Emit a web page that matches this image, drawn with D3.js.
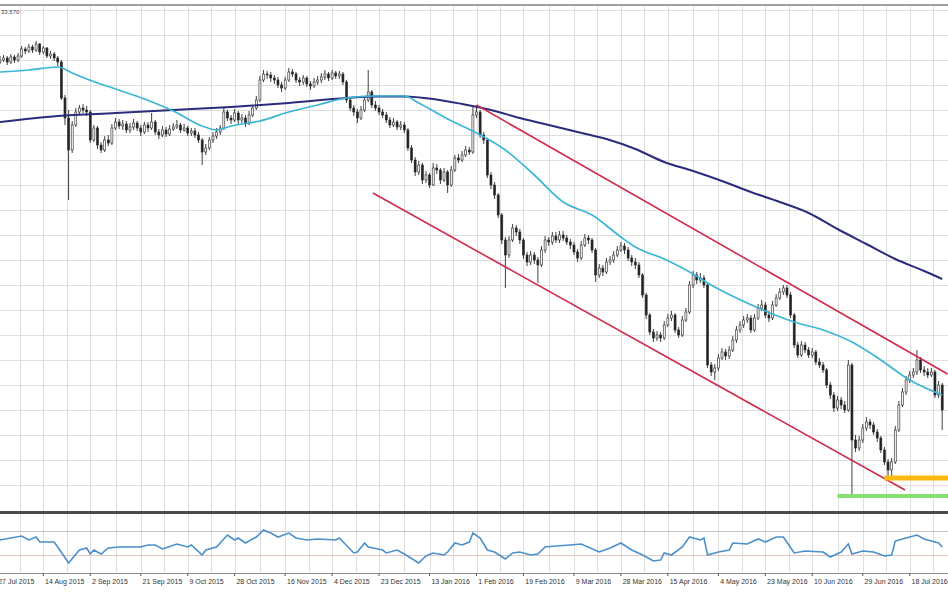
<!DOCTYPE html>
<html><head><meta charset="utf-8">
<script src="https://cdn.jsdelivr.net/npm/d3@7"></script>
<style>html,body{margin:0;padding:0;background:#fff;overflow:hidden}</style>
</head><body>
<svg id="c" width="948" height="593"></svg>
<script>
// ---------------- DATA ----------------
const firstOpen = 187.6;
const closes = [188.0,188.4,187.6,188.6,188.0,188.8,190.2,189.8,190.6,190.0,
191.2,189.6,190.4,188.8,189.2,188.4,187.6,180.4,176.4,170.0,
175.0,177.6,178.4,178.0,177.6,172.0,174.4,171.0,170.0,172.0,
171.4,174.4,175.6,174.8,175.2,174.0,174.6,175.4,174.4,173.6,
175.0,174.4,175.6,173.6,173.0,174.0,173.2,174.2,174.6,175.0,
174.0,174.4,173.4,173.8,173.0,172.0,169.6,170.4,172.0,172.8,
173.6,174.4,177.6,176.4,176.0,177.4,176.0,176.4,175.4,177.0,
178.4,180.0,184.0,185.2,185.0,184.4,184.0,183.0,182.4,184.0,
185.6,185.2,184.0,183.6,184.4,183.2,182.8,183.6,184.0,184.6,
185.2,184.4,185.4,184.8,185.2,183.6,180.0,178.4,177.6,176.4,
178.0,180.0,181.6,179.0,178.4,177.6,177.0,176.0,175.0,175.6,
174.6,175.0,174.0,170.4,168.0,165.6,167.0,164.0,165.0,163.0,
166.4,166.0,164.0,165.6,163.0,166.0,168.4,168.0,169.0,170.0,
169.6,177.0,177.6,173.0,172.0,165.0,163.0,161.0,157.0,152.0,
149.0,152.0,154.4,153.6,152.0,149.0,147.6,149.0,148.0,147.0,
150.0,152.0,151.6,152.8,152.0,153.0,152.4,151.6,151.0,149.6,
148.4,151.0,152.4,152.0,150.0,145.0,146.4,145.6,147.6,148.0,
149.0,150.0,150.8,150.0,148.4,147.6,147.0,145.0,141.0,137.0,
133.6,132.4,133.0,132.4,135.0,136.4,137.0,134.0,133.0,136.0,
137.6,143.0,145.0,144.0,144.4,143.0,127.0,125.6,126.4,128.4,
129.6,128.8,130.0,132.0,134.0,135.0,136.0,136.4,134.0,136.4,
138.4,139.0,137.0,136.4,139.0,140.4,141.6,142.4,141.0,137.0,
131.0,129.0,131.0,130.0,129.0,129.6,127.6,127.0,126.0,123.0,
121.0,118.4,120.0,119.0,118.0,127.0,112.0,110.4,112.0,114.4,
115.6,115.0,113.6,112.4,110.0,107.6,106.0,107.6,114.0,119.0,
121.6,124.0,125.0,125.6,128.0,126.0,125.6,125.0,125.6,121.0,
123.0,118.0];
const highs = [188.8,189.0,188.8,189.2,189.0,189.4,190.8,190.6,191.2,191.0,
191.8,191.4,190.8,190.6,189.8,189.6,188.8,188.0,181.0,178.0,
175.8,178.4,179.0,179.2,178.8,178.0,175.0,174.8,171.6,172.8,
173.0,175.2,176.4,176.2,176.0,175.8,175.4,176.2,175.8,175.0,
175.6,175.6,177.4,176.0,174.2,174.8,174.6,175.0,175.4,176.0,
175.4,175.2,174.8,174.4,174.4,173.6,172.4,171.2,172.6,173.6,
174.4,175.0,178.6,178.0,177.0,178.2,177.8,177.2,177.0,177.8,
179.0,180.8,184.8,186.0,185.8,185.6,185.0,184.6,183.6,184.6,
186.4,186.2,185.6,184.6,185.0,184.8,183.8,184.4,184.8,185.4,
186.0,185.6,186.0,185.8,185.8,185.6,184.0,180.6,179.0,178.2,
178.8,180.8,186.0,182.0,179.8,179.0,178.2,177.6,176.6,176.4,
176.0,175.8,175.6,174.4,171.0,168.6,167.8,167.4,165.8,165.4,
167.4,167.2,166.4,166.4,166.0,166.8,169.0,169.2,169.8,170.8,
170.6,178.6,179.0,178.0,173.6,172.4,165.6,163.6,161.4,157.4,
152.6,152.8,155.2,155.0,154.2,152.4,149.6,149.8,149.6,148.6,
150.8,152.8,152.6,153.6,153.6,153.8,153.8,153.0,152.2,151.6,
150.2,151.8,153.2,153.0,152.4,150.4,147.2,147.0,148.4,148.8,
149.8,150.8,151.6,151.4,150.6,149.0,148.4,147.6,145.4,141.4,
137.4,134.2,133.8,133.6,135.8,137.2,137.8,137.4,134.6,136.8,
138.4,143.8,145.8,145.6,145.4,145.0,143.4,127.6,127.2,129.2,
130.4,130.2,130.8,132.8,134.8,135.8,136.8,137.2,137.0,137.2,
139.2,140.0,139.6,137.8,139.8,141.2,142.4,143.0,143.0,141.6,
137.4,131.6,131.8,131.6,130.6,130.4,130.0,128.4,127.6,126.4,
123.6,121.6,120.8,120.6,119.8,128.0,127.4,113.0,112.8,115.2,
116.6,116.2,115.6,114.2,112.8,110.6,108.2,108.4,114.8,119.8,
122.4,124.8,125.8,126.4,130.0,128.6,126.8,126.4,126.4,126.0,
123.8,123.4];
const lows = [187.2,187.6,187.0,187.2,187.4,187.6,188.4,189.2,189.4,189.4,
189.6,189.0,189.2,188.4,188.2,187.8,186.8,180.0,175.0,160.0,
169.4,174.6,177.0,177.4,176.8,171.4,171.6,170.2,169.4,169.6,
170.8,171.0,174.0,174.2,174.0,173.4,173.4,174.0,173.8,172.8,
173.2,173.6,174.0,173.0,172.2,172.6,172.6,172.8,173.8,174.2,
173.4,173.6,172.8,172.8,172.4,171.4,167.0,169.0,170.0,171.4,
172.2,173.0,174.0,175.8,175.2,175.6,175.2,175.4,174.6,175.0,
176.6,178.0,179.6,183.6,184.2,183.6,183.2,182.4,181.6,182.0,
183.6,184.6,183.4,182.8,183.0,182.6,182.0,182.4,183.0,183.4,
184.0,183.8,184.0,184.2,184.2,183.0,179.4,177.8,176.8,175.4,
176.0,177.6,179.6,178.4,177.8,177.0,176.4,175.4,174.4,174.6,
174.0,174.0,173.4,169.8,167.4,164.8,165.0,163.2,163.4,162.4,
162.8,165.2,163.2,163.6,161.4,162.6,165.6,167.4,167.6,168.6,
169.0,169.2,176.4,172.4,171.2,164.4,162.2,160.2,156.4,151.2,
142.4,148.4,151.6,152.8,151.2,148.2,146.8,147.0,147.2,143.4,
146.6,149.4,150.8,151.0,151.4,151.4,151.8,151.0,150.2,149.0,
147.6,148.0,150.6,151.2,149.4,143.6,144.4,144.8,145.2,147.0,
147.4,148.6,149.6,149.2,147.8,146.8,146.2,144.4,140.4,136.2,
133.0,131.6,131.8,131.6,132.0,134.6,135.8,133.4,132.4,132.6,
135.6,137.2,142.4,143.2,143.4,142.4,126.4,124.8,124.0,125.8,
128.0,128.0,128.2,129.6,131.4,133.4,134.4,135.4,133.4,133.6,
136.0,137.8,136.4,135.6,136.0,138.6,140.0,141.0,140.4,136.4,
130.4,128.4,128.6,129.4,128.4,128.4,127.0,126.4,125.4,122.4,
120.2,117.6,117.8,118.2,117.4,117.6,100.8,109.6,109.8,111.4,
113.8,114.2,113.0,111.6,109.4,107.0,104.4,104.6,107.2,113.6,
118.6,121.0,123.4,124.4,125.0,125.4,124.8,124.4,124.6,120.4,
120.4,114.0];

// moving averages (bar index, value)
const fastMaBars = [0,8,16,20,24,32,40,48,56,60,64,72,80,88,96,104,112,116,124,132,140,148,156,164,172,176,184,192,196,204,212,220,228,236,244,252,261];
const fastMa = [185.6,186,186.6,185.4,184.2,182.2,180.2,177.8,174.8,174,174.8,175.8,177.6,179,180.4,180.8,180.8,179.4,176.2,173.4,170,165,159.6,157,152.6,150.6,148.2,145.2,143.4,140.4,137.8,135.6,134,131.6,128,124,121];
const slowMaBars = [0,16,32,48,64,80,96,104,112,120,128,136,144,152,160,168,176,184,192,200,208,216,224,232,240,248,256,261];
const slowMa = [175.6,176.8,177.4,178,178.6,179.4,180.4,180.7,180.7,180.2,179.2,178,176.4,175,173.6,172.2,170.2,167.6,165.8,163.8,161.6,159.6,157.4,154.2,151.2,148.2,145.8,144.2];

// oscillator (RSI-like)
const rsiBars = [0,6,8,10,11,15,16,19,22,24,25,26,28,30,33,39,41,43,45,49,52,53,56,57,60,63,65,66,68,71,73,75,77,80,82,85,88,93,94,98,99,101,102,106,107,110,112,116,118,120,123,124,126,128,130,131,133,135,137,140,142,144,147,149,151,154,158,161,166,169,172,175,178,181,183,184,186,189,191,194,195,196,199,202,203,207,210,212,215,217,220,223,228,230,233,235,236,239,242,245,247,248,251,254,256,259,260,261];
const rsiVals = [55.2,62.1,55.2,60.3,51.7,51.7,43.1,15.5,37.9,41.4,31.0,37.9,31.0,41.4,43.1,43.1,46.6,46.6,39.7,48.3,43.1,46.6,29.3,37.9,43.1,63.8,55.2,58.6,50.0,60.3,72.4,67.2,60.3,67.2,58.6,55.2,56.9,55.2,58.6,32.8,34.5,50.0,43.1,37.9,32.8,37.9,31.0,15.5,27.6,32.8,29.3,34.5,50.0,46.6,51.7,67.2,58.6,37.9,34.5,22.4,32.8,34.5,29.3,31.0,43.1,44.8,46.6,48.3,34.5,41.4,50.0,37.9,29.3,19.0,20.7,32.8,29.3,43.1,60.3,55.2,58.6,29.3,34.5,37.9,50.0,48.3,56.9,51.7,60.3,60.3,32.8,36.2,34.5,25.9,34.5,48.3,31.0,36.2,34.5,27.6,29.3,53.4,58.6,63.8,56.9,51.7,50.0,43.1];
const rsiLevels = [70, 30];

// time axis
const tickBars = [-1,12,25,39,52,65,79,92,105,119,132,145,159,172,185,199,212,225,239,252];
const tickLabels = ["27 Jul 2015","14 Aug 2015","2 Sep 2015","21 Sep 2015","9 Oct 2015","28 Oct 2015","16 Nov 2015","4 Dec 2015","23 Dec 2015","13 Jan 2016","1 Feb 2016","19 Feb 2016","9 Mar 2016","28 Mar 2016","15 Apr 2016","4 May 2016","23 May 2016","10 Jun 2016","29 Jun 2016","18 Jul 2016"];

// drawn objects: channel (bar, price) and horizontal levels
const channelUpper = [[132, 179.0], [262.5, 125.2]];
const channelLower = [[103.3, 161.4], [250.7, 102.0]];
const levelPrices = [104.4, 100.8];
const levelFromBars = [245, 232];
const topLabel = "33.570";

// ---------------- DRAW ----------------
const svg = d3.select("#c");
const W = 948;
const mainTop = 6, mainBottom = 511, oscTop = 514, oscBottom = 572, axisY = 573;
const x = d3.scaleLinear().domain([0, 261]).range([0, 942.2]);
const y = d3.scaleLinear().domain([97.8, 198.8]).range([mainBottom, mainTop]);
const yr = d3.scaleLinear().domain([0, 100]).range([oscBottom, oscTop]);

svg.append("rect").attr("width", W).attr("height", 593).attr("fill", "#fff");

const defs = svg.append("defs");
defs.append("clipPath").attr("id", "cm").append("rect")
  .attr("x", 0).attr("y", mainTop).attr("width", W).attr("height", mainBottom - mainTop);
defs.append("clipPath").attr("id", "co").append("rect")
  .attr("x", 0).attr("y", oscTop).attr("width", W).attr("height", oscBottom - oscTop);

// grid
const gridBars = [];
tickBars.forEach((b, i) => {
  gridBars.push(b);
  const nb = i < tickBars.length - 1 ? tickBars[i + 1] : b + 13;
  gridBars.push((b + nb) / 2);
});
const grid = svg.append("g").attr("stroke", "#dedede").attr("stroke-width", 1);
gridBars.forEach(b => {
  const gx = Math.round(x(b)) + 0.5;
  if (gx < 0 || gx > W) return;
  grid.append("line").attr("x1", gx).attr("x2", gx).attr("y1", mainTop).attr("y2", mainBottom);
  grid.append("line").attr("x1", gx).attr("x2", gx).attr("y1", oscTop).attr("y2", oscBottom);
});
d3.range(103, 199, 5).forEach(p => {
  const gy = Math.round(y(p)) + 0.5;
  grid.append("line").attr("x1", 0).attr("x2", W).attr("y1", gy).attr("y2", gy);
});

// candles
const candles = closes.map((c, i) => ({ i, o: i === 0 ? firstOpen : closes[i - 1], c, h: highs[i], l: lows[i] }));
const cg = svg.append("g").attr("clip-path", "url(#cm)");
cg.selectAll("line.w").data(candles).join("line")
  .attr("x1", d => x(d.i)).attr("x2", d => x(d.i))
  .attr("y1", d => y(d.h)).attr("y2", d => y(d.l))
  .attr("stroke", "#2a2a2a").attr("stroke-width", 0.9);
cg.selectAll("rect.b").data(candles).join("rect")
  .attr("x", d => x(d.i) - 1).attr("width", 2)
  .attr("y", d => y(Math.max(d.o, d.c)))
  .attr("height", d => Math.max(1, Math.abs(y(d.o) - y(d.c))))
  .attr("fill", d => d.c >= d.o ? "#f4f4f4" : "#222")
  .attr("stroke", "#2a2a2a").attr("stroke-width", 0.6);

// moving averages
const maLine = d3.line().x(d => x(d[0])).y(d => y(d[1])).curve(d3.curveMonotoneX);
cg.append("path").datum(slowMaBars.map((b, k) => [b, slowMa[k]]))
  .attr("d", maLine).attr("fill", "none").attr("stroke", "#2c2c7c").attr("stroke-width", 2);
cg.append("path").datum(fastMaBars.map((b, k) => [b, fastMa[k]]))
  .attr("d", maLine).attr("fill", "none").attr("stroke", "#3bb6d6").attr("stroke-width", 1.7);

// channel lines
[channelUpper, channelLower].forEach(ch => {
  cg.append("line")
    .attr("x1", x(ch[0][0])).attr("y1", y(ch[0][1]))
    .attr("x2", x(ch[1][0])).attr("y2", y(ch[1][1]))
    .attr("stroke", "#d02c4c").attr("stroke-width", 1.6);
});

// horizontal levels
const levelColors = ["#ffba10", "#86e06c"];
const levelWidths = [5, 4];
levelPrices.forEach((p, k) => {
  cg.append("line").attr("x1", x(levelFromBars[k])).attr("x2", W)
    .attr("y1", y(p)).attr("y2", y(p))
    .attr("stroke", levelColors[k]).attr("stroke-width", levelWidths[k]);
});

// top label and borders
svg.append("rect").attr("x", 0).attr("y", 4).attr("width", W).attr("height", 2).attr("fill", "#a0a0a0");
svg.append("text").attr("x", 1).attr("y", 14).text(topLabel)
  .attr("font-family", "Liberation Sans, Arial, sans-serif").attr("font-size", 6).attr("fill", "#444");
svg.append("rect").attr("x", 0).attr("y", mainBottom).attr("width", W).attr("height", 3).attr("fill", "#4a4a4a");

// oscillator
const og = svg.append("g").attr("clip-path", "url(#co)");
const levelStroke = ["#c4c4c4", "#e2c8c0"];
rsiLevels.forEach((lv, k) => {
  og.append("line").attr("x1", 0).attr("x2", W)
    .attr("y1", Math.round(yr(lv)) + 0.5).attr("y2", Math.round(yr(lv)) + 0.5)
    .attr("stroke", levelStroke[k]).attr("stroke-width", 1);
});
og.append("path").datum(rsiBars.map((b, k) => [b, rsiVals[k]]))
  .attr("d", d3.line().x(d => x(d[0])).y(d => yr(d[1])))
  .attr("fill", "none").attr("stroke", "#4a90cc").attr("stroke-width", 1.6);

// time axis
svg.append("line").attr("x1", 0).attr("x2", W).attr("y1", axisY + 0.5).attr("y2", axisY + 0.5)
  .attr("stroke", "#8a8a8a").attr("stroke-width", 1);
const ax = svg.append("g");
tickBars.forEach((b, k) => {
  const tx = x(b);
  ax.append("line").attr("x1", tx).attr("x2", tx).attr("y1", axisY).attr("y2", axisY + 3)
    .attr("stroke", "#555").attr("stroke-width", 1);
  ax.append("text").attr("x", tx + 1.8).attr("y", 584).text(tickLabels[k])
    .attr("font-family", "Liberation Sans, Arial, sans-serif").attr("font-size", 7).attr("fill", "#333");
});
</script>
</body></html>
